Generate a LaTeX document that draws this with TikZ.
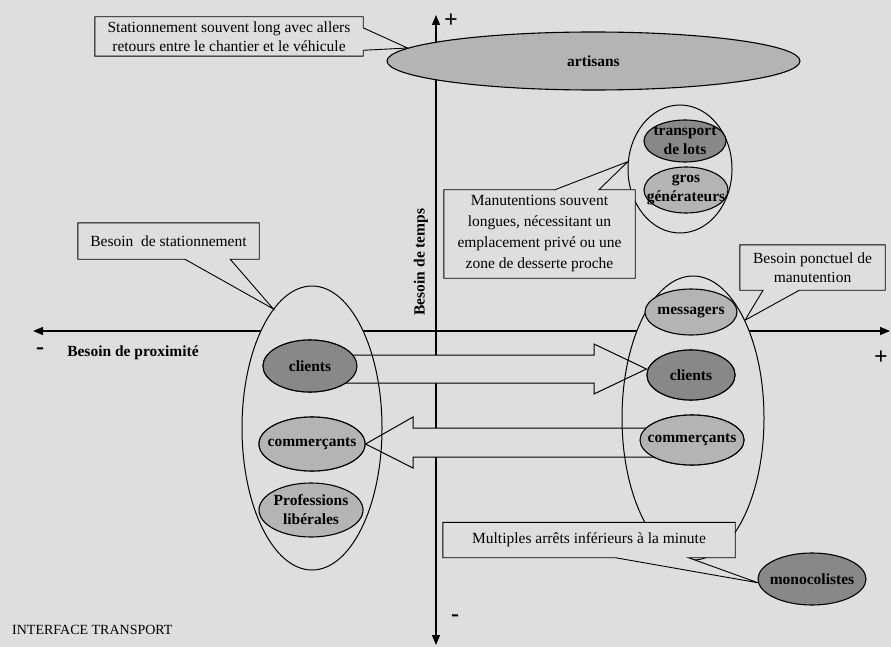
\documentclass[tikz,border=0pt]{standalone}
\usepackage{fontspec}
\setmainfont{Liberation Serif}
\usetikzlibrary{shapes.geometric,arrows.meta,calc}
\definecolor{paper}{HTML}{DEDEDE}
\definecolor{midgrey}{HTML}{B4B4B4}
\definecolor{darkgrey}{HTML}{888888}

\begin{document}
\begin{tikzpicture}[x=1pt,y=-1pt,
  txt/.style={font=\fontsize{15.5}{19.5}\selectfont, align=center, inner sep=0pt},
  lab/.style={font=\fontsize{15.5}{19}\selectfont\bfseries, align=center, inner sep=0pt},
  axis/.style={line width=1.2pt, {Triangle[length=10pt,width=8pt]}-{Triangle[length=10pt,width=8pt]}},
  group/.style={ellipse, line width=1pt, inner sep=0pt},
  blob/.style={ellipse, draw, line width=1.1pt, fill=#1, inner sep=0pt},
  frame/.style={rectangle, inner sep=0pt},
  noteline/.style={draw, line width=0.9pt, fill=paper, line join=miter},
  fat/.style={draw, line width=1pt, fill=paper, line join=miter},
  sign/.style={font=\fontsize{24}{24}\selectfont\bfseries, inner sep=0pt},
]
% paper
\fill[paper] (0,0) rectangle (891,647);
\useasboundingbox (0,0) rectangle (891,647);

% axes
\coordinate (xl) at (33,331);
\coordinate (xr) at (890,331);
\coordinate (yt) at (436,15);
\coordinate (yb) at (436,645);
\draw[axis] (xl) -- (xr);
\draw[axis] (yt) -- (yb);

% large grouping ellipses (filled, hide the axis)
\node[group, fill=paper, minimum width=140pt, minimum height=284pt] (L) at (312,428) {};
\node[group, fill=paper, minimum width=142pt, minimum height=284pt] (R) at (693,418) {};
\node[group, fill=paper, draw, minimum width=104pt, minimum height=128pt] (G) at (680,169) {};

% centres of the linked ellipses
\path (310,366) coordinate (clp) (691,375) coordinate (crp)
      (312,444) coordinate (cmlp) (692,440) coordinate (cmrp);

% ellipses used as ends of the fat arrows
\node[blob=darkgrey, minimum width=94pt, minimum height=52pt] (cl) at (clp) {};
\node[blob=darkgrey, minimum width=88pt, minimum height=50pt] (cr) at (crp) {};
\node[blob=midgrey, minimum width=106pt, minimum height=54pt] (cml) at (cmlp) {};
\node[blob=midgrey, minimum width=104pt, minimum height=50pt] (cmr) at (cmrp) {};

% fat arrows between the two groups
\draw[fat] ([xshift=-20pt,yshift=11pt]cl.east) -- (594,355) -- (594,344)
  -- ([yshift=6pt]cr.west) -- (594,394) -- (594,383)
  -- ([xshift=-20pt,yshift=-17pt]cl.east) -- cycle;
\draw[fat] ([xshift=20pt,yshift=12pt]cmr.west) -- (413,428) -- (413,417)
  -- (cml.east) -- (413,468) -- (413,457)
  -- ([xshift=20pt,yshift=-17pt]cmr.west) -- cycle;

% outlines of the groups over the arrows
\node[group, draw, minimum width=140pt, minimum height=284pt] (L2) at (L) {};
\node[group, draw, minimum width=142pt, minimum height=284pt] (R2) at (R) {};

% ellipses with their labels
\node[blob=darkgrey, minimum width=94pt, minimum height=52pt,
      label={[lab]center:clients}] (cl2) at (clp) {};
\node[blob=darkgrey, minimum width=88pt, minimum height=50pt,
      label={[lab]center:clients}] (cr2) at (crp) {};
\node[blob=midgrey, minimum width=106pt, minimum height=54pt,
      label={[lab]center:commerçants}] (cml2) at (cmlp) {};
\node[blob=midgrey, minimum width=104pt, minimum height=50pt,
      label={[lab]center:commerçants}] (cmr2) at (cmrp) {};
\node[blob=midgrey, minimum width=104pt, minimum height=54pt,
      label={[lab]center:{Professions\\libérales}}] (pl) at (311,510) {};
\node[blob=midgrey, minimum width=92pt, minimum height=46pt,
      label={[lab]center:messagers}] (ms) at (691,312) {};
\node[blob=darkgrey, minimum width=82pt, minimum height=42pt,
      label={[lab]center:{transport\\de lots}}] (tl) at (685,141) {};
\node[blob=midgrey, minimum width=84pt, minimum height=46pt,
      label={[lab]center:{gros\\générateurs}}] (gg) at (686,190) {};
\node[blob=darkgrey, minimum width=108pt, minimum height=52pt,
      label={[lab]center:monocolistes}] (mono) at (812,579) {};
\node[blob=midgrey, minimum width=413pt, minimum height=58pt,
      label={[lab]center:artisans}] (art) at (593.5,61) {};

% callouts
\node[frame, minimum width=268pt, minimum height=39pt] (T) at (229,36.5) {};
\path[noteline] (T.north west) -- (T.north east) -- ($(T.north east)!.28!(T.south east)$)
  -- (art.176) -- ($(T.north east)!.85!(T.south east)$) -- (T.south east)
  -- (T.south west) -- cycle;
\node[txt] (Tt) at (T) {Stationnement souvent long avec allers\\retours entre le chantier et le véhicule};

\node[frame, minimum width=181pt, minimum height=36pt] (S) at (168.5,241) {};
\path[noteline] (S.north west) -- (S.north east) -- (S.south east)
  -- ($(S.south west)!.84!(S.south east)$) -- (L2.108)
  -- ($(S.south west)!.59!(S.south east)$) -- (S.south west) -- cycle;
\node[txt] (St) at (S) {Besoin~~de stationnement};

\node[frame, minimum width=191pt, minimum height=88pt] (M) at (539.5,234) {};
\path[noteline] (M.north west) -- ($(M.north west)!.58!(M.north east)$) -- (G.172)
  -- ($(M.north west)!.81!(M.north east)$) -- (M.north east) -- (M.south east)
  -- (M.south west) -- cycle;
\node[txt, font=\fontsize{15.5}{21}\selectfont] (Mt) at (M)
  {Manutentions souvent\\longues, nécessitant un\\emplacement privé ou une\\zone de desserte proche};

\node[frame, minimum width=145pt, minimum height=45pt] (P) at (812.5,267.5) {};
\path[noteline] (P.north west) -- (P.north east) -- (P.south east)
  -- ($(P.south west)!.41!(P.south east)$) -- (R2.62)
  -- ($(P.south west)!.16!(P.south east)$) -- (P.south west) -- cycle;
\node[txt] (Pt) at (P) {Besoin ponctuel de\\manutention};

\node[frame, minimum width=292pt, minimum height=35pt] (Mu) at (589,540) {};
\path[noteline] (Mu.north west) -- (Mu.north east) -- (Mu.south east)
  -- ($(Mu.south west)!.84!(Mu.south east)$) -- (mono.184)
  -- ($(Mu.south west)!.59!(Mu.south east)$) -- (Mu.south west) -- cycle;
\node[txt] (Mut) at (Mu) {Multiples arrêts inférieurs à la minute};

% axis titles and signs
\node[lab] (px) at (133,353) {Besoin de proximité};
\node[lab, rotate=90] (tp) at (421,262) {Besoin de temps};
\node[sign] (ptop) at (451,21) {+};
\node[sign] (pright) at (881,358) {+};
\node[sign] (mleft) at (40,351) {-};
\node[sign] (mbot) at (455,618) {-};

\node[font=\fontsize{14}{16}\selectfont, inner sep=0pt, anchor=base west] (it) at (12,634)
  {INTERFACE TRANSPORT};
\end{tikzpicture}
\end{document}
